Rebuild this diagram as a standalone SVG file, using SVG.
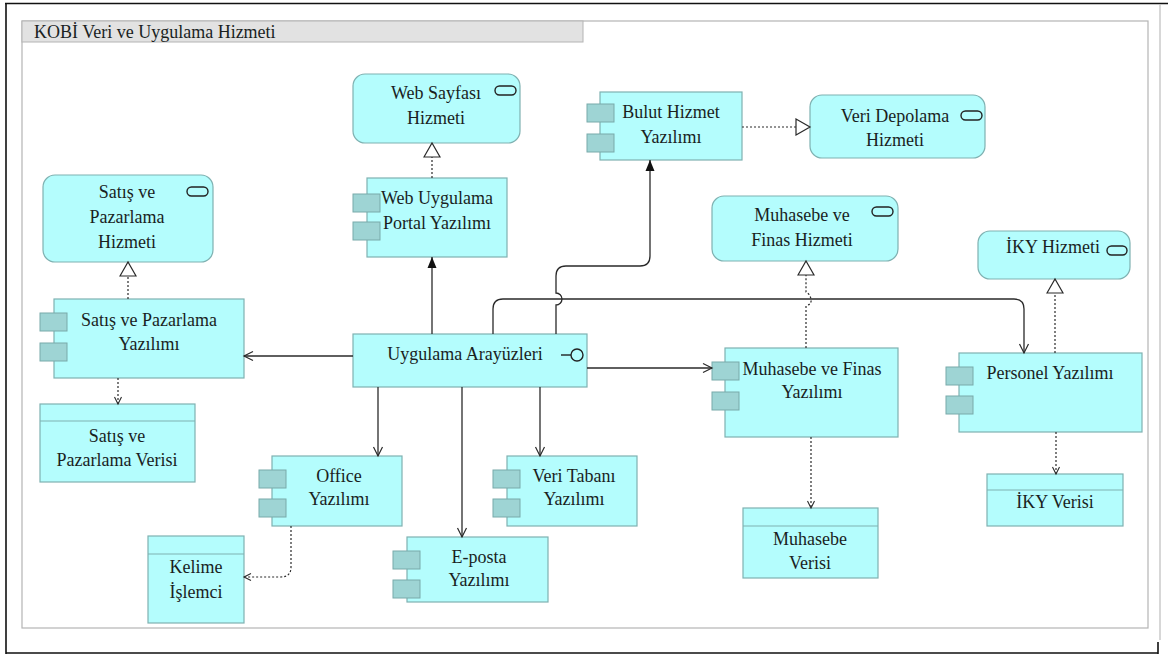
<svg xmlns="http://www.w3.org/2000/svg" width="1172" height="655" viewBox="0 0 1172 655">
  <style>
    .frame { fill: none; stroke: #111; stroke-width: 1.6; }
    .grpbox { fill: #fff; stroke: #b4b4b4; stroke-width: 1.2; }
    .grptitle { fill: #e2e2e2; stroke: #b4b4b4; stroke-width: 1; }
    .svc { fill: #b4fdfd; stroke: #7fb1b1; stroke-width: 1.2; }
    .comp { fill: #b4fdfd; stroke: #7fb1b1; stroke-width: 1.2; }
    .tab { fill: #9ed4d4; stroke: #78aaaa; stroke-width: 1; }
    .data { fill: #b4fdfd; stroke: #7fb1b1; stroke-width: 1.2; }
    .hdr { stroke: #7fb1b1; stroke-width: 1.2; fill: none; }
    .icon { fill: none; stroke: #222; stroke-width: 1.4; }
    .t { font-family: "Liberation Serif", "Times New Roman", serif; font-size: 18px; fill: #1a1f1f; text-anchor: middle; }
    .title { font-family: "Liberation Serif", "Times New Roman", serif; font-size: 18px; fill: #1a1f1f; }
    .solid { fill: none; stroke: #2a2a2a; stroke-width: 1.3; }
    .dotted { fill: none; stroke: #2a2a2a; stroke-width: 1.2; stroke-dasharray: 2 2; }
  </style>
  <defs>
    <marker id="open" markerWidth="12" markerHeight="12" refX="10" refY="6" orient="auto" markerUnits="userSpaceOnUse">
      <path d="M1,1.5 L10,6 L1,10.5" fill="none" stroke="#2a2a2a" stroke-width="1.2"/>
    </marker>
    <marker id="filled" markerWidth="12" markerHeight="12" refX="11" refY="6" orient="auto" markerUnits="userSpaceOnUse">
      <path d="M0,1.5 L11,6 L0,10.5 z" fill="#111"/>
    </marker>
    <marker id="hollow" markerWidth="18" markerHeight="18" refX="15" refY="9" orient="auto" markerUnits="userSpaceOnUse">
      <path d="M1,1 L15,9 L1,17 z" fill="#fff" stroke="#2a2a2a" stroke-width="1.2"/>
    </marker>
    <marker id="access" markerWidth="10" markerHeight="10" refX="8" refY="5" orient="auto" markerUnits="userSpaceOnUse">
      <path d="M1,1.5 L8,5 L1,8.5" fill="none" stroke="#2a2a2a" stroke-width="1.1"/>
    </marker>
  </defs>

  <rect width="1172" height="655" fill="#fff"/>

  <!-- outer page frame -->
  <g id="page-frame">
    <path class="frame" d="M5,3.5 H1168 M6,3 V654 M6,653 H1158 M1158,642 V654"/>
    <path d="M1160,4 V640" fill="none" stroke="#bdbdbd" stroke-width="1.2"/>
  </g>

  <!-- grouping box -->
  <g id="group-kobi">
    <rect class="grpbox" x="22" y="21" width="1126" height="607"/>
    <rect class="grptitle" x="22" y="21" width="561" height="21"/>
    <text class="title" x="34" y="38">KOBİ Veri ve Uygulama Hizmeti</text>
  </g>

  <!-- services -->
  <g id="svc-web-sayfasi">
    <rect class="svc" x="353" y="74" width="167" height="69" rx="12"/>
    <rect class="icon" x="495" y="86" width="21" height="9" rx="4.5"/>
    <text class="t" x="436" y="99">Web Sayfası</text>
    <text class="t" x="436" y="124">Hizmeti</text>
  </g>
  <g id="svc-satis">
    <rect class="svc" x="43" y="175" width="170" height="87" rx="12"/>
    <rect class="icon" x="187" y="187" width="21" height="9" rx="4.5"/>
    <text class="t" x="127" y="198">Satış ve</text>
    <text class="t" x="127" y="223">Pazarlama</text>
    <text class="t" x="127" y="248">Hizmeti</text>
  </g>
  <g id="svc-veri-depolama">
    <rect class="svc" x="810" y="95" width="175" height="63" rx="12"/>
    <rect class="icon" x="961" y="111" width="21" height="9" rx="4.5"/>
    <text class="t" x="895" y="122">Veri Depolama</text>
    <text class="t" x="895" y="146">Hizmeti</text>
  </g>
  <g id="svc-muhasebe">
    <rect class="svc" x="712" y="196" width="186" height="65" rx="12"/>
    <rect class="icon" x="872" y="207" width="21" height="9" rx="4.5"/>
    <text class="t" x="802" y="221">Muhasebe ve</text>
    <text class="t" x="802" y="246">Finas Hizmeti</text>
  </g>
  <g id="svc-iky">
    <rect class="svc" x="978" y="231" width="152" height="48" rx="12"/>
    <rect class="icon" x="1107" y="246" width="20" height="9" rx="4.5"/>
    <text class="t" x="1053" y="253">İKY Hizmeti</text>
  </g>

  <!-- application components -->
  <g id="cmp-web-uygulama">
    <rect class="comp" x="367" y="178" width="140" height="79"/>
    <rect class="tab" x="353" y="194" width="27" height="18"/>
    <rect class="tab" x="353" y="222" width="27" height="18"/>
    <text class="t" x="437" y="204">Web Uygulama</text>
    <text class="t" x="437" y="229">Portal Yazılımı</text>
  </g>
  <g id="cmp-bulut">
    <rect class="comp" x="600" y="92" width="142" height="68"/>
    <rect class="tab" x="587" y="104" width="27" height="18"/>
    <rect class="tab" x="587" y="134" width="27" height="18"/>
    <text class="t" x="671" y="118">Bulut Hizmet</text>
    <text class="t" x="671" y="143">Yazılımı</text>
  </g>
  <g id="cmp-satis">
    <rect class="comp" x="54" y="299" width="190" height="79"/>
    <rect class="tab" x="40" y="313" width="27" height="18"/>
    <rect class="tab" x="40" y="343" width="27" height="18"/>
    <text class="t" x="149" y="326">Satış ve Pazarlama</text>
    <text class="t" x="149" y="350">Yazılımı</text>
  </g>
  <g id="ifc-uygulama">
    <rect class="comp" x="353" y="334" width="234" height="53"/>
    <path class="icon" d="M561,355 H571"/>
    <circle class="icon" cx="577" cy="355" r="6"/>
    <text class="t" x="465" y="360">Uygulama Arayüzleri</text>
  </g>
  <g id="cmp-muhasebe">
    <rect class="comp" x="725" y="348" width="173" height="89"/>
    <rect class="tab" x="712" y="362" width="27" height="18"/>
    <rect class="tab" x="712" y="392" width="27" height="18"/>
    <text class="t" x="812" y="375">Muhasebe ve Finas</text>
    <text class="t" x="812" y="398">Yazılımı</text>
  </g>
  <g id="cmp-personel">
    <rect class="comp" x="959" y="353" width="183" height="79"/>
    <rect class="tab" x="946" y="367" width="27" height="18"/>
    <rect class="tab" x="946" y="396" width="27" height="18"/>
    <text class="t" x="1050" y="379">Personel Yazılımı</text>
  </g>
  <g id="cmp-office">
    <rect class="comp" x="272" y="456" width="130" height="70"/>
    <rect class="tab" x="259" y="470" width="27" height="18"/>
    <rect class="tab" x="259" y="499" width="27" height="18"/>
    <text class="t" x="339" y="482">Office</text>
    <text class="t" x="339" y="505">Yazılımı</text>
  </g>
  <g id="cmp-veri-tabani">
    <rect class="comp" x="507" y="456" width="130" height="70"/>
    <rect class="tab" x="493" y="470" width="27" height="18"/>
    <rect class="tab" x="493" y="499" width="27" height="18"/>
    <text class="t" x="574" y="482">Veri Tabanı</text>
    <text class="t" x="574" y="505">Yazılımı</text>
  </g>
  <g id="cmp-eposta">
    <rect class="comp" x="407" y="537" width="141" height="65"/>
    <rect class="tab" x="393" y="551" width="27" height="18"/>
    <rect class="tab" x="393" y="580" width="27" height="18"/>
    <text class="t" x="479" y="563">E-posta</text>
    <text class="t" x="479" y="586">Yazılımı</text>
  </g>

  <!-- data objects -->
  <g id="dat-satis">
    <rect class="data" x="40" y="404" width="155" height="78"/>
    <path class="hdr" d="M40,421 H195"/>
    <text class="t" x="117" y="442">Satış ve</text>
    <text class="t" x="117" y="466">Pazarlama Verisi</text>
  </g>
  <g id="dat-kelime">
    <rect class="data" x="148" y="536" width="96" height="87"/>
    <path class="hdr" d="M148,554 H244"/>
    <text class="t" x="196" y="573">Kelime</text>
    <text class="t" x="196" y="598">İşlemci</text>
  </g>
  <g id="dat-muhasebe">
    <rect class="data" x="743" y="508" width="135" height="70"/>
    <path class="hdr" d="M743,526 H878"/>
    <text class="t" x="810" y="545">Muhasebe</text>
    <text class="t" x="810" y="569">Verisi</text>
  </g>
  <g id="dat-iky">
    <rect class="data" x="987" y="474" width="136" height="52"/>
    <path class="hdr" d="M987,490 H1123"/>
    <text class="t" x="1055" y="508">İKY Verisi</text>
  </g>

  <!-- connectors -->
  <g id="connectors">
    <!-- realizations -->
    <path class="dotted" d="M432,178 V143" marker-end="url(#hollow)"/>
    <path class="dotted" d="M128,299 V262" marker-end="url(#hollow)"/>
    <path class="dotted" d="M742,127 H810" marker-end="url(#hollow)"/>
    <path class="dotted" d="M806,348 V306 Q812,304 811,299 Q810,294 806,292 V261" marker-end="url(#hollow)"/>
    <path class="dotted" d="M1055,353 V279" marker-end="url(#hollow)"/>
    <!-- serving / triggering from the interface -->
    <path class="solid" d="M353,356 H244" marker-end="url(#open)"/>
    <path class="solid" d="M432,334 V257" marker-end="url(#filled)"/>
    <path class="solid" d="M556,334 V305 A6,6 0 0 0 556,293 V276 Q556,266 566,266 H640 Q650,266 650,256 V160" marker-end="url(#filled)"/>
    <path class="solid" d="M493,334 V309 Q493,299 503,299 H1014 Q1024,299 1024,309 V353" marker-end="url(#open)"/>
    <path class="solid" d="M587,368 H712" marker-end="url(#open)"/>
    <path class="solid" d="M378,387 V456" marker-end="url(#open)"/>
    <path class="solid" d="M462,387 V537" marker-end="url(#open)"/>
    <path class="solid" d="M540,387 V456" marker-end="url(#open)"/>
    <!-- data access -->
    <path class="dotted" d="M118,378 V404" marker-end="url(#access)"/>
    <path class="dotted" d="M291,526 V567 Q291,577 281,577 H244" marker-end="url(#access)"/>
    <path class="dotted" d="M811,437 V508" marker-end="url(#access)"/>
    <path class="dotted" d="M1056,432 V474" marker-end="url(#access)"/>
  </g>
</svg>
